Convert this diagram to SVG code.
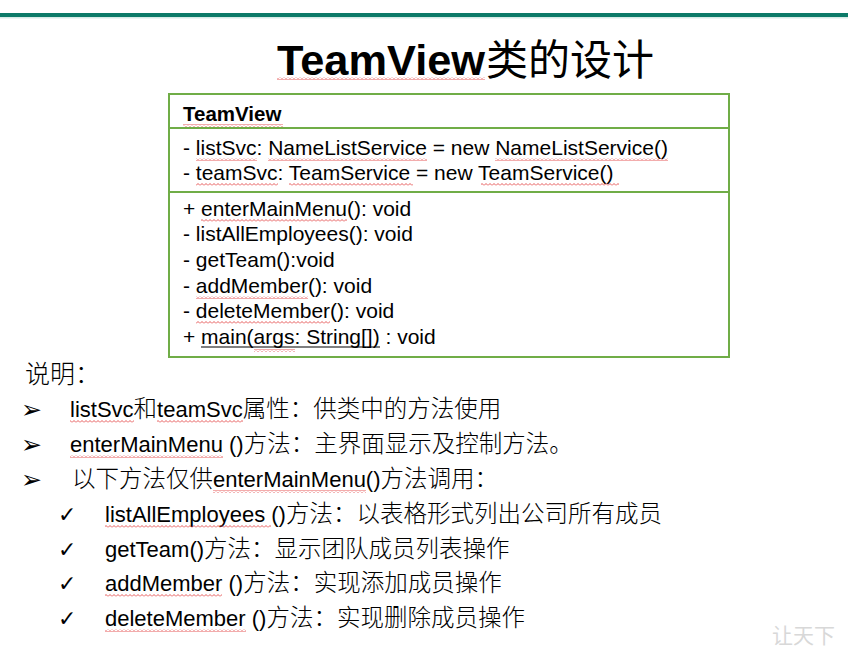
<svg xmlns="http://www.w3.org/2000/svg" width="848" height="648" viewBox="0 0 848 648">
<defs>
<style>
.t{font-family:"Liberation Sans","Noto Sans CJK SC",sans-serif;fill:#000}
.cn{font-family:"Noto Sans CJK SC",sans-serif;font-size:23.5px;font-weight:300}
.box{font-size:21px}
.low{font-size:22px}
.sq{fill:url(#squig)}
.div{stroke:#70ad47;stroke-width:2}
.sym{font-family:"DejaVu Sans",sans-serif;fill:#000}
</style>
<pattern id="squig" patternUnits="userSpaceOnUse" width="4" height="3">
<polyline points="0,2.5 2,0.5 4,2.5" fill="none" stroke="#e03030" stroke-width="0.8"/>
</pattern>
</defs>
<rect width="848" height="648" fill="#fff"/>
<rect x="0" y="13" width="848" height="4" fill="#0c7a68"/>
<rect x="0" y="17" width="848" height="1.5" fill="#d6ebe6"/>

<g id="title">
<text class="t" x="277" y="75" font-size="43" font-weight="bold" textLength="208" lengthAdjust="spacingAndGlyphs">TeamView</text>
<text class="cn" x="486" y="75" style="font-size:42px;font-weight:400">类的设计</text>
<rect class="sq" x="277" y="77" width="208" height="3"/>
</g>

<g id="class-teamview">
<rect x="169" y="94" width="560" height="263" fill="#fff" stroke="#70ad47" stroke-width="2"/>
<line class="div" x1="169" y1="128" x2="729" y2="128"/>
<line class="div" x1="169" y1="192" x2="729" y2="192"/>
<text class="t" x="183" y="121" font-size="20.5" font-weight="bold">TeamView</text>
<g class="t box">
<text x="183" y="155">- listSvc: NameListService = new NameListService()</text>
<text x="183" y="180">- teamSvc: TeamService = new TeamService()</text>
<text x="183" y="216">+ enterMainMenu(): void</text>
<text x="183" y="241">- listAllEmployees(): void</text>
<text x="183" y="267">- getTeam():void</text>
<text x="183" y="293">- addMember(): void</text>
<text x="183" y="318">- deleteMember(): void</text>
<text x="183" y="344">+ main(args: String[]) : void</text>
</g>
<line x1="201" y1="347" x2="380" y2="347" stroke="#000" stroke-width="1.2"/>
<rect class="sq" x="183" y="124" width="100" height="3"/>
<rect class="sq" x="196" y="158" width="61" height="3"/>
<rect class="sq" x="268" y="158" width="159" height="3"/>
<rect class="sq" x="495" y="158" width="173" height="3"/>
<rect class="sq" x="196" y="183" width="82" height="3"/>
<rect class="sq" x="289" y="183" width="124" height="3"/>
<rect class="sq" x="481" y="183" width="138" height="3"/>
<rect class="sq" x="201" y="219" width="146" height="3"/>
<rect class="sq" x="196" y="296" width="112" height="3"/>
<rect class="sq" x="196" y="321" width="134" height="3"/>
<rect class="sq" x="254" y="349" width="41" height="3"/>
</g>

<g id="notes">
<text class="cn" x="25" y="383" style="font-size:25px;font-weight:300">说明：</text>
<g class="sym" font-size="25">
<text x="21" y="418">➢</text>
<text x="21" y="453">➢</text>
<text x="21" y="488">➢</text>
</g>
<g class="sym" font-size="22">
<text x="58" y="522">✓</text>
<text x="58" y="557">✓</text>
<text x="58" y="591">✓</text>
<text x="58" y="626">✓</text>
</g>
<g class="t low">
<text x="70" y="417">listSvc<tspan class="cn">和</tspan>teamSvc<tspan class="cn">属性：供类中的方法使用</tspan></text>
<text x="70" y="452">enterMainMenu ()<tspan class="cn">方法：主界面显示及控制方法。</tspan></text>
<text x="72" y="487"><tspan class="cn">以下方法仅供</tspan>enterMainMenu()<tspan class="cn">方法调用：</tspan></text>
<text x="105" y="522">listAllEmployees ()<tspan class="cn">方法：以表格形式列出公司所有成员</tspan></text>
<text x="105" y="557">getTeam()<tspan class="cn">方法：显示团队成员列表操作</tspan></text>
<text x="105" y="591">addMember ()<tspan class="cn">方法：实现添加成员操作</tspan></text>
<text x="105" y="626">deleteMember ()<tspan class="cn">方法：实现删除成员操作</tspan></text>
</g>
<rect class="sq" x="70" y="420" width="64" height="3"/>
<rect class="sq" x="157" y="420" width="86" height="3"/>
<rect class="sq" x="70" y="455" width="153" height="3"/>
<rect class="sq" x="213" y="490" width="153" height="3"/>
<rect class="sq" x="105" y="525" width="166" height="3"/>
<rect class="sq" x="105" y="594" width="117" height="3"/>
<rect class="sq" x="105" y="629" width="141" height="3"/>
</g>

<text x="772" y="643" font-family="'Noto Sans CJK SC',sans-serif" font-size="21" fill="#d8d8d8">让天下</text>
</svg>
